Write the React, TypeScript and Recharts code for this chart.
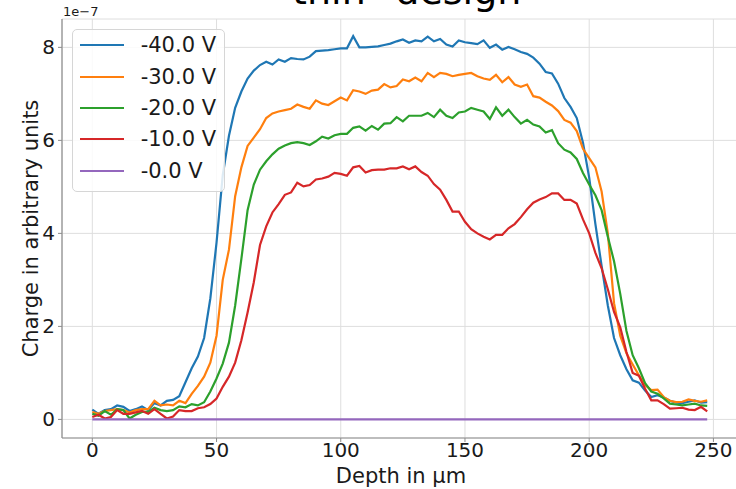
import { LineChart, Line, XAxis, YAxis, CartesianGrid, Legend, Label } from "recharts";

const FONT = "DejaVu Sans";

// depth in µm
const depth = [
  0, 2.5, 5, 7.5, 10, 12.5, 15, 17.5, 20, 22.5,
  25, 27.5, 30, 32.5, 35, 37.5, 40, 42.5, 45, 47.5,
  50, 52.5, 55, 57.5, 60, 62.5, 65, 67.5, 70, 72.5,
  75, 77.5, 80, 82.5, 85, 87.5, 90, 92.5, 95, 97.5,
  100, 102.5, 105, 107.5, 110, 112.5, 115, 117.5, 120, 122.5,
  125, 127.5, 130, 132.5, 135, 137.5, 140, 142.5, 145, 147.5,
  150, 152.5, 155, 157.5, 160, 162.5, 165, 167.5, 170, 172.5,
  175, 177.5, 180, 182.5, 185, 187.5, 190, 192.5, 195, 197.5,
  200, 202.5, 205, 207.5, 210, 212.5, 215, 217.5, 220, 222.5,
  225, 227.5, 230, 232.5, 235, 237.5, 240, 242.5, 245, 247.5,
];

// charge, in units of 1e-7
const v40 = [
  0.21, 0.12, 0.2, 0.22, 0.3, 0.27, 0.18, 0.22, 0.28, 0.2,
  0.35, 0.3, 0.4, 0.42, 0.5, 0.8, 1.1, 1.35, 1.75, 2.6,
  3.8, 5.25, 6.1, 6.7, 7.05, 7.33, 7.5, 7.62, 7.69, 7.63,
  7.74, 7.69, 7.77, 7.75, 7.74, 7.8, 7.92, 7.93, 7.94, 7.96,
  7.98, 7.98, 8.24, 8.0, 8.0, 8.01, 8.02, 8.05, 8.08, 8.13,
  8.17, 8.1, 8.15, 8.13, 8.23, 8.13, 8.18, 8.06, 8.02, 8.15,
  8.11, 8.09, 8.07, 8.15, 7.99, 8.06, 7.95, 8.01, 7.96, 7.9,
  7.86, 7.78, 7.65, 7.47, 7.44, 7.22, 6.91, 6.72, 6.48, 5.95,
  5.2, 4.2, 3.3, 2.45, 1.75, 1.38, 1.08, 0.84, 0.79, 0.62,
  0.48, 0.52, 0.47, 0.4, 0.36, 0.35, 0.38, 0.41, 0.36, 0.37,
];

const v30 = [
  0.16, 0.12, 0.18, 0.2, 0.22, 0.2, 0.15, 0.2, 0.22, 0.22,
  0.4, 0.3, 0.32, 0.3, 0.4, 0.35, 0.55, 0.72, 0.92, 1.22,
  1.8, 3.0, 3.65, 4.8, 5.42, 5.88, 6.06, 6.24, 6.48, 6.58,
  6.62, 6.65, 6.68, 6.77, 6.72, 6.68, 6.86, 6.79, 6.76, 6.84,
  6.92, 6.86, 7.08, 7.05, 7.0, 7.07, 7.09, 7.21, 7.14, 7.17,
  7.31, 7.27, 7.35, 7.27, 7.45, 7.36, 7.45, 7.43, 7.38, 7.41,
  7.43, 7.45, 7.38, 7.33, 7.3, 7.41, 7.25, 7.36, 7.2, 7.15,
  7.2, 6.95, 6.92, 6.83, 6.75, 6.63, 6.44, 6.38, 6.2, 5.82,
  5.62, 5.42, 4.9, 4.0, 2.5, 1.8, 1.42, 1.18, 0.95, 0.74,
  0.63, 0.64, 0.48, 0.4, 0.37, 0.38, 0.43, 0.4, 0.38, 0.41,
];

const v20 = [
  0.12, 0.08, 0.18, 0.1, 0.22, 0.2, 0.02, 0.1, 0.16, 0.16,
  0.25, 0.2, 0.18, 0.2, 0.28, 0.26, 0.33, 0.3, 0.37, 0.6,
  0.88, 1.2, 1.65, 2.45, 3.45, 4.5, 5.05, 5.37, 5.55, 5.7,
  5.82, 5.89, 5.94, 5.96, 5.94, 5.9, 5.98, 6.08, 6.04, 6.11,
  6.14, 6.14, 6.27, 6.3, 6.21, 6.31, 6.23, 6.36, 6.37, 6.5,
  6.41, 6.53, 6.53, 6.53, 6.59, 6.5, 6.66, 6.53, 6.48, 6.6,
  6.62, 6.7, 6.66, 6.62, 6.46, 6.71, 6.53, 6.66, 6.5, 6.36,
  6.44, 6.34, 6.3, 6.17, 6.22, 5.94, 5.8, 5.74, 5.6, 5.3,
  5.05, 4.82, 4.5, 3.93, 3.4, 2.7, 1.9, 1.38, 1.1, 0.78,
  0.6, 0.55, 0.45, 0.34, 0.32, 0.3, 0.32, 0.34, 0.3, 0.29,
];

const v10 = [
  0.05, 0.1, 0.02, 0.05, 0.2, 0.12, 0.12, 0.15, 0.18, 0.12,
  0.22, 0.12, 0.02, 0.06, 0.2, 0.18, 0.18, 0.24, 0.26, 0.33,
  0.45, 0.7, 0.92, 1.22, 1.7, 2.3, 2.95, 3.75, 4.15, 4.45,
  4.63, 4.83, 4.88, 5.09, 5.01, 5.04, 5.16, 5.18, 5.22, 5.3,
  5.28, 5.24, 5.42, 5.45, 5.31, 5.36, 5.37, 5.37, 5.4, 5.4,
  5.44, 5.38, 5.44, 5.32, 5.24, 5.06, 4.94, 4.72, 4.47, 4.47,
  4.25, 4.09, 4.0, 3.93, 3.87, 3.97, 3.97, 4.11, 4.2, 4.35,
  4.52, 4.66, 4.73, 4.78, 4.86, 4.86, 4.72, 4.72, 4.64, 4.3,
  4.0, 3.58, 3.25, 2.8, 2.31, 1.98, 1.45, 1.0, 0.94, 0.66,
  0.41, 0.41, 0.33, 0.23, 0.24, 0.25, 0.21, 0.2, 0.27, 0.17,
];

const v0 = [
  0, 0, 0, 0, 0, 0, 0, 0, 0, 0,
  0, 0, 0, 0, 0, 0, 0, 0, 0, 0,
  0, 0, 0, 0, 0, 0, 0, 0, 0, 0,
  0, 0, 0, 0, 0, 0, 0, 0, 0, 0,
  0, 0, 0, 0, 0, 0, 0, 0, 0, 0,
  0, 0, 0, 0, 0, 0, 0, 0, 0, 0,
  0, 0, 0, 0, 0, 0, 0, 0, 0, 0,
  0, 0, 0, 0, 0, 0, 0, 0, 0, 0,
  0, 0, 0, 0, 0, 0, 0, 0, 0, 0,
  0, 0, 0, 0, 0, 0, 0, 0, 0, 0,
];

const seriesKeys = ["v40", "v30", "v20", "v10", "v0"];
const seriesNames = ["-40.0 V", "-30.0 V", "-20.0 V", "-10.0 V", "-0.0 V"];
const seriesColors = ["#1f77b4", "#ff7f0e", "#2ca02c", "#d62728", "#9467bd"];
const xTicks = [0, 50, 100, 150, 200, 250];
const yTicks = [0, 2, 4, 6, 8];

const data = depth.map((d, i) => ({
  depth: d,
  v40: v40[i],
  v30: v30[i],
  v20: v20[i],
  v10: v10[i],
  v0: v0[i],
}));

const SPINE = "#8c8c8c";
const TEXT = "#1a1a1a";

function LegendBox() {
  return (
    <div
      style={{
        position: "relative",
        width: 153,
        height: 163,
        boxSizing: "border-box",
        border: "1px solid #d6d6d6",
        borderRadius: 5,
        background: "rgba(255,255,255,0.85)",
        fontFamily: FONT,
        fontSize: 21,
        color: TEXT,
      }}
    >
      {seriesNames.map((name, i) => (
        <div
          key={name}
          style={{
            position: "absolute",
            left: 0,
            top: 15.4 + i * 31.3 - 15,
            height: 30,
            display: "flex",
            alignItems: "center",
            whiteSpace: "nowrap",
          }}
        >
          <span
            style={{
              display: "inline-block",
              marginLeft: 6.7,
              width: 44.3,
              height: 2.2,
              background: seriesColors[i],
            }}
          />
          <span style={{ marginLeft: 16.7, lineHeight: "30px" }}>{name}</span>
        </div>
      ))}
    </div>
  );
}

export default function App() {
  return (
    <div
      style={{
        position: "absolute",
        left: 0,
        top: 0,
        width: 736,
        height: 489,
        overflow: "hidden",
        background: "#fff",
      }}
    >
      <LineChart
        width={736}
        height={489}
        data={data}
        margin={{ top: 19, right: -4, bottom: 0, left: 0 }}
      >
        <CartesianGrid stroke="#dedede" strokeWidth={1} />
        <XAxis
          dataKey="depth"
          type="number"
          domain={[-12.2, 260.7]}
          allowDataOverflow
          ticks={xTicks}
          interval={0}
          height={51}
          tickSize={4}
          tickMargin={1}
          tick={{ fill: TEXT, fontSize: 20, fontFamily: FONT }}
          axisLine={{ stroke: SPINE, strokeWidth: 1.2 }}
          tickLine={{ stroke: SPINE }}
        >
          <Label
            value="Depth in µm"
            position="insideBottom"
            offset={6}
            fill={TEXT}
            fontSize={21}
            fontFamily={FONT}
          />
        </XAxis>
        <XAxis
          xAxisId="top"
          orientation="top"
          dataKey="depth"
          type="number"
          domain={[-12.2, 260.7]}
          allowDataOverflow
          height={0}
          tick={false}
          tickLine={false}
          axisLine={{ stroke: SPINE, strokeWidth: 1.2 }}
        />
        <YAxis
          type="number"
          domain={[-0.4, 8.61]}
          allowDataOverflow
          ticks={yTicks}
          interval={0}
          width={62}
          tickSize={4}
          tickMargin={3}
          tick={{ fill: TEXT, fontSize: 20, fontFamily: FONT }}
          axisLine={{ stroke: SPINE, strokeWidth: 1.2 }}
          tickLine={{ stroke: SPINE }}
        >
          <Label
            value="Charge in arbitrary units"
            angle={-90}
            position="center"
            fill={TEXT}
            fontSize={21}
            fontFamily={FONT}
          />
        </YAxis>
        <Legend
          layout="vertical"
          align="center"
          verticalAlign="middle"
          wrapperStyle={{ left: 72, top: 29, width: 153, height: 163 }}
          content={() => <LegendBox />}
        />
        {seriesKeys.map((k, i) => (
          <Line
            key={k}
            type="linear"
            dataKey={k}
            name={seriesNames[i]}
            stroke={seriesColors[i]}
            strokeWidth={2.2}
            dot={false}
            activeDot={false}
            isAnimationActive={false}
          />
        ))}
      </LineChart>
      <div
        style={{
          position: "absolute",
          left: 0,
          top: -27.7,
          width: 796,
          textAlign: "center",
          fontFamily: FONT,
          fontSize: 38,
          lineHeight: "38px",
          color: "#000",
          whiteSpace: "nowrap",
        }}
      >
        "thin" design
      </div>
      <div
        style={{
          position: "absolute",
          left: 63,
          top: 5,
          fontFamily: FONT,
          fontSize: 13,
          lineHeight: "13px",
          color: TEXT,
        }}
      >
        1e−7
      </div>
    </div>
  );
}
